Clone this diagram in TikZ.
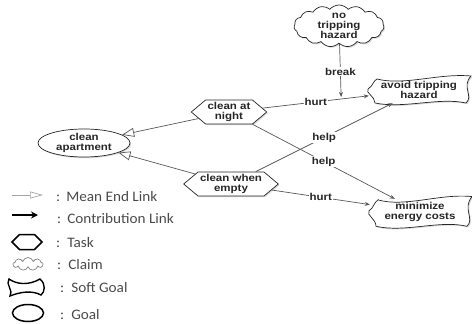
\documentclass[tikz,border=0pt]{standalone}
\usepackage{fontspec}
\setmainfont{Liberation Sans}
\newfontfamily\diagfont[FakeStretch=1.15]{Liberation Sans}
\newfontfamily\legfont[FakeStretch=1.05]{Carlito}
\usetikzlibrary{shapes.geometric,shapes.symbols,arrows.meta,shadows,backgrounds}

\definecolor{linegray}{HTML}{585858}
\definecolor{leggray}{HTML}{4A4A4A}

\tikzset{
  shadowed/.style={drop shadow={opacity=0.3, shadow xshift=1.2pt, shadow yshift=-1.2pt}},
  base/.style={draw=black!85, fill=white, line width=0.7pt, shadowed,
    font=\diagfont\bfseries\fontsize{10}{10.5}\selectfont, align=center, text=black!85},
  goal/.style={base, ellipse, inner sep=0pt, minimum width=92pt, minimum height=27pt},
  task/.style={base, signal, signal to=east and west, signal pointer angle=80,
    inner xsep=2pt, inner ysep=1pt, minimum height=24pt},
  claim/.style={base, cloud, cloud puffs=15, cloud puff arc=100, cloud ignores aspect,
    inner xsep=0pt, inner ysep=-4pt, minimum width=90pt, minimum height=42pt,
    font=\diagfont\bfseries\fontsize{10}{10}\selectfont},
  softtext/.style={font=\diagfont\bfseries\fontsize{10}{10.5}\selectfont, align=center,
    inner sep=0pt, minimum width=100pt, minimum height=26pt, text=black!85},
  sgline/.style={draw=black!85, fill=white, line width=0.7pt},
  contrib/.style={draw=linegray, line width=0.7pt, -{Stealth[length=5pt, width=4pt]}},
  meanend/.style={draw=linegray, line width=0.7pt,
    -{Triangle[open, length=12pt, width=9pt, fill=white]}},
  lbl/.style={fill=white, inner sep=1pt, text=black!85,
    font=\diagfont\bfseries\fontsize{10}{10.5}\selectfont},
  legshape/.style={draw=black, fill=white, line width=1.5pt},
  legtxt/.style={anchor=west, inner sep=0pt, text=leggray,
    font=\legfont\fontsize{14.5}{16}\selectfont},
}

% wavy soft goal outline round a node
\newcommand{\sgblob}[2][]{%
  \path[shift={(#2.center)}, sgline, #1]
    (-42,-11) .. controls (-15,-4) and (20,-17) .. (52,-14)
    .. controls (42,-3) and (55,6) .. (47,13)
    .. controls (20,7) and (-15,19) .. (-44,13)
    .. controls (-44,6) and (-54,3) .. (-51,-1)
    .. controls (-46,-4) and (-46,-9) .. cycle;}

\begin{document}
\begin{tikzpicture}[x=1pt, y=-1pt]
  \useasboundingbox (0,0) rectangle (472,324);

  \node (apt) at (84,143) [goal] {clean\\apartment};
  \node (night) at (229,112) [task] {clean at\\night};
  \node (empty) at (231,184) [task] {clean when\\empty};
  \node (nth) at (339,26) [claim] {no\\tripping\\hazard};
  \node (avoid) at (419,90) [softtext] {avoid tripping\\hazard};
  \node (energy) at (420,212) [softtext] {minimize\\energy costs};
  \begin{scope}[on background layer]
    \sgblob[shadowed]{avoid}
    \sgblob[shadowed, yscale=1.1]{energy}
  \end{scope}

  \draw[meanend] (night) -- (apt);
  \draw[meanend] (empty) -- (apt);
  \draw[contrib] (night) -- node[lbl] {hurt} coordinate[pos=0.74] (brk) (avoid);
  \draw[contrib, shorten >=2pt] (nth) -- node[lbl] {break} (brk);
  \draw[contrib] (night) -- node[lbl] {help} (energy);
  \draw[contrib] (empty) -- node[lbl] {help} (avoid);
  \draw[contrib] (empty) -- node[lbl] {hurt} (energy);

  % legend
  \coordinate (me1) at (12,195);
  \coordinate (me2) at (43,195);
  \draw[draw=gray!70, line width=0.7pt, -{Triangle[open, length=13pt, width=7pt, fill=white]}] (me1) -- (me2);
  \node (lme) at (56,197) [legtxt] {:\hspace{6pt}Mean End Link};
  \coordinate (cl1) at (12,215);
  \coordinate (cl2) at (38,215);
  \draw[-{Stealth[length=7pt, width=7pt]}, line width=1.4pt] (cl1) -- (cl2);
  \node (lcl) at (57,219) [legtxt] {:\hspace{6pt}Contribution Link};
  \node (ltask) at (27,242) [legshape, signal, signal to=east and west,
    signal pointer angle=90, inner sep=0pt, minimum width=30pt, minimum height=15pt] {};
  \node (lts) at (56,243) [legtxt] {:\hspace{7pt}Task};
  \node (lclaim) at (28,264) [cloud, cloud puffs=9, cloud ignores aspect, draw=black!55,
    fill=white, line width=0.6pt, inner sep=0pt, minimum width=30pt, minimum height=13pt] {};
  \node (lcm) at (57,265) [legtxt] {:\hspace{7pt}Claim};
  \draw[draw=black, line width=1.4pt] (9,279) .. controls (16,284) and (28,286) .. (40,279)
    .. controls (46,284) and (45,292) .. (41,295)
    .. controls (32,290) and (20,292) .. (10,296)
    .. controls (14,291) and (5,284) .. cycle;
  \node (lsgt) at (60,288) [legtxt] {:\hspace{7pt}Soft Goal};
  \node (lgoal) at (28,313) [legshape, ellipse, inner sep=0pt, minimum width=31pt,
    minimum height=17pt] {};
  \node (lgl) at (60,315) [legtxt] {:\hspace{7pt}Goal};
\end{tikzpicture}
\end{document}
